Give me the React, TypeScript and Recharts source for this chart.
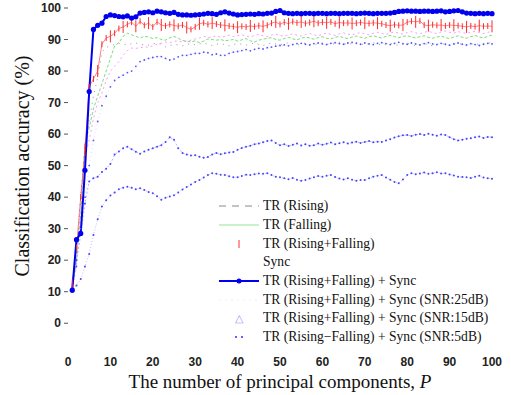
import { LineChart, Line, XAxis, YAxis } from "recharts"

// principal components P = 1..100
const components = Array.from({ length: 100 }, (_, i) => i + 1)

const trRising = [
  11, 22, 40, 55, 64, 72, 78, 86, 87.5, 88,
  88.4, 88.8, 88.6, 88.3, 88.7, 88.9, 88.5, 88.2, 88.2, 88.6,
  88.9, 88.4, 87.7, 88.1, 88.5, 88.3, 88.0, 88.4, 88.7, 88.3,
  88.6, 88.9, 88.4, 88.1, 88.5, 88.8, 88.3, 88.0, 88.4, 88.7,
  88.5, 88.2, 88.6, 88.9, 88.4, 88.1, 88.5, 88.9, 88.6, 88.3,
  88.7, 89.0, 88.5, 88.2, 88.6, 88.9, 88.5, 88.3, 88.7, 89.0,
  88.6, 88.3, 88.8, 89.1, 88.7, 88.4, 88.8, 89.1, 88.6, 88.3,
  88.7, 89.0, 88.5, 88.2, 88.6, 88.9, 88.4, 88.1, 88.5, 88.8,
  88.4, 88.0, 88.4, 88.7, 88.3, 88.0, 88.5, 88.8, 88.4, 88.1,
  88.5, 88.9, 88.4, 88.0, 88.5, 88.8, 88.3, 88.6, 88.9, 89.0,
]

const trFalling = [
  11, 20, 35, 57, 62, 68, 72, 76, 80, 84,
  88, 89, 91, 92, 91.5, 91, 90.5, 91, 90.8, 90.3,
  90.6, 90, 89.8, 90.5, 91, 90.4, 89.7, 89.5, 89.2, 89.6,
  89, 89.5, 90.2, 90, 89.8, 90, 89.6, 89.8, 90, 89.5,
  89.9, 90.3, 89.6, 89.2, 89.8, 90.1, 90.4, 90.6, 90, 89.8,
  90.3, 90.7, 90.2, 89.9, 90.4, 90.8, 90.5, 90.1, 90.6, 90.9,
  90.4, 90.2, 90.7, 91, 90.6, 90.3, 90.8, 91.1, 90.7, 90.4,
  90.9, 91.2, 90.8, 90.5, 91, 91.3, 90.9, 90.6, 91, 91.2,
  90.8, 90.5, 90.9, 91.2, 90.7, 90.4, 90.8, 91.1, 90.6, 90.3,
  90.8, 91.2, 90.7, 90.4, 90.9, 91.3, 90.8, 90.5, 91, 91.4,
]

const trBoth = [
  12, 24, 40, 55, 75, 77.5, 80, 88.5, 90.5, 91,
  92, 93.5, 94, 94.8, 95.5, 94.2, 95.8, 94.5, 95.2, 94,
  95.6, 94.6, 94.3, 94.8, 94.5, 94.2, 94.6, 93.8, 93.2, 94,
  95, 95.3, 94.8, 95.2, 94.9, 94.6, 94.5, 94.3, 94.1, 93.9,
  94.2, 94.0, 94.3, 94.1, 94.4, 94.2, 94.5, 95.2, 95.6, 94.8,
  95.5, 95.0, 95.7, 95.3, 95.6, 95.1, 95.4, 95.8, 95.2, 95.5,
  95.3, 95.6, 95.0, 95.4, 95.2, 95.3, 95.1, 95.2, 95.4, 95.2,
  95.1, 95.3, 95.2, 95.0, 94.6, 94.4, 94.7, 94.5, 94.6, 95.5,
  95.8, 95.6, 95.9, 94.6, 94.4, 94.7, 94.5, 94.6, 94.3, 94.6,
  94.5, 94.4, 94.2, 94.0, 94.3, 94.1, 94.4, 94.2, 94.3, 94.2,
]

const sync = [
  12, 18, 40, 53, 58, 65, 70, 73, 77, 80,
  81.5, 83, 85, 86.5, 87.3, 87.2, 87.4, 87.6, 87.6, 88,
  88.5, 88.8, 89.2, 89, 89.4, 89.6, 89.2, 89.5, 89.8, 90.2,
  90.5, 91, 90.6, 90.8, 91.2, 90.7, 91, 91.4, 90.9, 91.2,
  91.5, 91.1, 90.8, 91.3, 91.6, 91.2, 90.9, 91.4, 91.7, 91.3,
  91, 91.5, 91.8, 91.4, 91.1, 91.6, 91.9, 91.5, 91.2, 91.7,
  92, 91.6, 91.3, 91.8, 92.1, 91.7, 91.4, 91.9, 92.2, 91.8,
  91.5, 92, 92.3, 91.9, 91.6, 92.1, 92.4, 92, 91.7, 92.2,
  92.5, 92.1, 91.8, 92.3, 92.6, 92.2, 91.9, 92.4, 92.7, 92.3,
  92, 92.5, 92.2, 91.9, 92.4, 92.6, 92.2, 91.9, 92.3, 92.5,
]

const trSync = [
  10.5, 26.5, 28.5, 48.5, 73.5, 93.2, 94.5, 95.2, 97.3, 97.8,
  97.6, 97.3, 97.2, 97.5, 96.8, 97.2, 98.4, 98.6, 98.8, 98.5,
  99.0, 98.8, 98.5, 98.3, 98.6, 98.0, 97.8, 97.8, 97.7, 97.8,
  97.9, 98.1, 98.3, 98.2, 98.0, 98.5, 98.8, 98.4, 98.1, 97.8,
  97.9, 98.0, 98.1, 98.0, 98.2, 98.1, 98.3, 98.4, 98.9, 99.2,
  98.5, 98.3, 98.2, 98.3, 98.2, 98.3, 98.3, 98.2, 98.3, 98.3,
  98.2, 98.3, 98.3, 98.2, 98.3, 98.3, 98.3, 98.2, 98.3, 98.4,
  98.3, 98.2, 98.3, 98.3, 98.3, 98.4, 98.6, 98.9, 99.0, 99.1,
  99.0, 99.0, 98.9, 99.0, 99.0, 98.9, 99.0, 99.1, 98.8, 98.9,
  99.1, 99.2, 98.8, 98.4, 98.3, 98.2, 98.3, 98.2, 98.3, 98.2,
]

const snr25 = [
  10, 18, 30, 40, 50, 58, 64, 69, 72, 75,
  77, 78, 78.7, 79.5, 80, 81.5, 83, 83.5, 84, 84.3,
  84.6, 84.6, 84, 83.5, 83.8, 84.5, 85, 85, 85.3, 85.6,
  85.6, 86, 85.8, 85.2, 85.4, 85, 85, 85.6, 86, 86.2,
  86.5, 86.8, 86.4, 86.9, 87.2, 87, 87.4, 87.6, 87.9, 88.1,
  88.3, 88, 88.4, 88.7, 88.8, 88.5, 88.3, 88.7, 88.9, 88.6,
  88.4, 88.8, 89, 88.7, 88.5, 88.9, 89.1, 88.8, 88.5, 88.9,
  88.6, 88.4, 88.8, 89, 88.7, 88.4, 88.8, 89.1, 88.7, 88.5,
  88.9, 88.6, 88.3, 88.7, 89, 88.6, 88.4, 88.8, 88.5, 88.2,
  88.6, 88.9, 88.5, 88.3, 88.7, 88.4, 88.1, 88.5, 88.8, 88.6,
]

const snr15 = [
  11, 20, 28, 38, 45, 46, 46.5, 48, 49, 50.5,
  53.5, 54.5, 55.5, 56, 55.2, 54.4, 53.8, 54.5, 55, 55.5,
  56, 56.5, 57.5, 59, 58.2, 55.5, 54, 53.5, 53.2, 53.3,
  52.8, 52.5, 52.7, 53.5, 54, 53.6, 53.9, 54.2, 54.3, 55,
  55.6, 56, 56.3, 56.8, 57, 57.4, 57.8, 58, 57.2, 56.5,
  56.8, 56.2, 56.6, 57, 56.4, 56.8, 56.3, 56.5, 57, 56.6,
  56.9, 57.3, 56.8, 57.1, 57.4, 57, 57.3, 57.6, 57.2, 57.5,
  57.8, 57.4, 57.6, 57.5, 58, 58.4, 58.9, 59.3, 59.6, 59.7,
  59.4, 59.8, 60, 59.7, 60.1, 59.8, 59.5, 59.9, 59.7, 59,
  58.4, 58, 58.2, 58.5, 58.7, 59, 59.2, 58.8, 59.1, 59,
]

const snr5 = [
  10, 12, 14, 18, 22, 28, 33, 37, 39, 40.5,
  41.5, 42.5, 43, 43.3, 43, 42.5, 42.8, 42.3, 41.6, 41.2,
  40.3, 39.2, 39.8, 40.2, 40.6, 41.5, 42.4, 43.2, 44, 44.8,
  45.4, 46.2, 47, 47.6, 47.4, 47.1, 47, 46.6, 46.3, 46.3,
  46.7, 47.1, 47, 47.3, 47.5, 47.4, 47.6, 47, 46.5, 46.3,
  46, 45.7, 46.1, 45.5, 45.2, 45.4, 45.9, 46.3, 46.7, 46.5,
  46.8, 47, 46.4, 45.9, 45.6, 46, 45.5, 45.2, 45.4, 45.4,
  46, 46.5, 46.8, 47, 46.2, 45.5, 44.8, 44.4, 45.6, 47,
  47.6, 47.3, 47.5, 47.8, 47.4, 47.6, 47.9, 47.5, 47.6, 47.2,
  46.9, 46.5, 46.4, 46.3, 46.1, 46.5, 46.8, 46.2, 46, 45.8,
]

const yTicks = [0, 10, 20, 30, 40, 50, 60, 70, 80, 90, 100]
const xTicks = [0, 10, 20, 30, 40, 50, 60, 70, 80, 90, 100]

const legendLabels = [
  "TR (Rising)",
  "TR (Falling)",
  "TR (Rising+Falling)",
  "Sync",
  "TR (Rising+Falling) + Sync",
  "TR (Rising+Falling) + Sync (SNR:25dB)",
  "TR (Rising+Falling) + Sync (SNR:15dB)",
  "TR (Rising\u2212Falling) + Sync (SNR:5dB)",
]

const data = components.map((p, i) => ({
  p,
  rising: trRising[i],
  falling: trFalling[i],
  both: trBoth[i],
  sync: sync[i],
  trSync: trSync[i],
  snr25: snr25[i],
  snr15: snr15[i],
  snr5: snr5[i],
}))

const tickFont = { fontFamily: "Liberation Sans, Arial, sans-serif", fontSize: 12, fontWeight: "bold", fill: "#222" }

function RedTick(props: any) {
  const { cx, cy, index } = props
  if (cx == null || cy == null) return <g key={`rt-${index}`} />
  const h = index % 3 === 0 ? 6 : 3
  return <line key={`rt-${index}`} x1={cx} x2={cx} y1={cy - h} y2={cy + h} stroke="#ff2a2a" strokeWidth={1} />
}

function YTitle() {
  return (
    <text
      x={22}
      y={166}
      transform="rotate(-90 22 166)"
      textAnchor="middle"
      dominantBaseline="central"
      fontFamily="Liberation Serif, Times New Roman, serif"
      fontSize={20}
      fill="#111"
    >
      Classification accuracy (%)
    </text>
  )
}

function XTitle() {
  return (
    <text
      x={280}
      y={381}
      textAnchor="middle"
      dominantBaseline="central"
      fontFamily="Liberation Serif, Times New Roman, serif"
      fontSize={19}
      fill="#111"
    >
      The number of principal components, <tspan fontStyle="italic">P</tspan>
    </text>
  )
}

function marker(i: number) {
  switch (i) {
    case 0:
      return <line x1={2} x2={42} y1={9} y2={9} stroke="#888" strokeWidth={1} strokeDasharray="7 6" />
    case 1:
      return <line x1={2} x2={42} y1={9} y2={9} stroke="#8fe88f" strokeWidth={1} />
    case 2:
      return <line x1={22} x2={22} y1={5} y2={13} stroke="#ff3030" strokeWidth={1} />
    case 3:
      return null
    case 4:
      return (
        <g>
          <line x1={2} x2={42} y1={9} y2={9} stroke="#0000ee" strokeWidth={2} />
          <circle cx={22} cy={9} r={2.5} fill="#0000ee" />
        </g>
      )
    case 5:
      return <line x1={2} x2={42} y1={9} y2={9} stroke="#eeeeff" strokeWidth={1} strokeDasharray="2 4" />
    case 6:
      return <text x={22} y={13} textAnchor="middle" fontSize={11} fill="#9a9af0">△</text>
    default:
      return (
        <g>
          <circle cx={19} cy={9} r={1} fill="#3030ff" />
          <circle cx={25} cy={9} r={1} fill="#3030ff" />
        </g>
      )
  }
}

function LegendBox() {
  return (
    <div
      style={{
        position: "absolute",
        left: 217,
        top: 197,
        fontFamily: "Liberation Serif, Times New Roman, serif",
        fontSize: 13.6,
        color: "#111",
      }}
    >
      {legendLabels.map((label, i) => (
        <div key={label} style={{ display: "flex", alignItems: "center", height: 18.7 }}>
          <svg width={46} height={18} style={{ flexShrink: 0 }}>
            {marker(i)}
          </svg>
          <span style={{ whiteSpace: "nowrap" }}>{label}</span>
        </div>
      ))}
    </div>
  )
}

export default function App() {
  return (
    <div style={{ position: "absolute", left: 0, top: 0, width: 511, height: 395, background: "#fff" }}>
      <LineChart width={511} height={395} data={data} margin={{ top: 8, right: 19, left: 0, bottom: 0 }}>
        <XAxis
          dataKey="p"
          type="number"
          domain={[0, 100]}
          ticks={xTicks}
          axisLine={false}
          tickLine={false}
          tickSize={5}
          tickMargin={13}
          height={56}
          tick={tickFont}
          label={<XTitle />}
        />
        <YAxis
          type="number"
          domain={[-5, 100]}
          ticks={yTicks}
          axisLine={false}
          tickSize={4}
          tickMargin={3}
          tickLine={{ stroke: "#555" }}
          width={68}
          tick={tickFont}
          label={<YTitle />}
        />
        <Line dataKey="snr5" stroke="#6a6aff" strokeOpacity={0.45} strokeWidth={1} strokeDasharray="1 2" dot={{ r: 1, fill: "#4444ff", stroke: "none" }} isAnimationActive={false} />
        <Line dataKey="snr15" stroke="#6a6aff" strokeOpacity={0.5} strokeWidth={1} strokeDasharray="2 2" dot={{ r: 1, fill: "#4444ff", stroke: "none" }} isAnimationActive={false} />
        <Line dataKey="snr25" stroke="#8080ff" strokeOpacity={0.3} strokeWidth={1} strokeDasharray="1 3" dot={{ r: 0.9, fill: "#5555ff", stroke: "none" }} isAnimationActive={false} />
        <Line dataKey="rising" stroke="#555" strokeOpacity={0.6} strokeWidth={1} strokeDasharray="1 5" dot={false} isAnimationActive={false} />
        <Line dataKey="sync" stroke="#ff55ff" strokeOpacity={0.6} strokeWidth={1} strokeDasharray="2 3" dot={false} isAnimationActive={false} />
        <Line dataKey="falling" stroke="#33cc33" strokeOpacity={0.65} strokeWidth={1} strokeDasharray="3 2" dot={false} isAnimationActive={false} />
        <Line dataKey="both" stroke="#ff3030" strokeOpacity={0.6} strokeWidth={1} dot={<RedTick />} isAnimationActive={false} />
        <Line dataKey="trSync" stroke="#0000ee" strokeWidth={2} dot={{ r: 2.6, fill: "#0000ee", stroke: "none" }} isAnimationActive={false} />
      </LineChart>
      <LegendBox />
    </div>
  )
}
